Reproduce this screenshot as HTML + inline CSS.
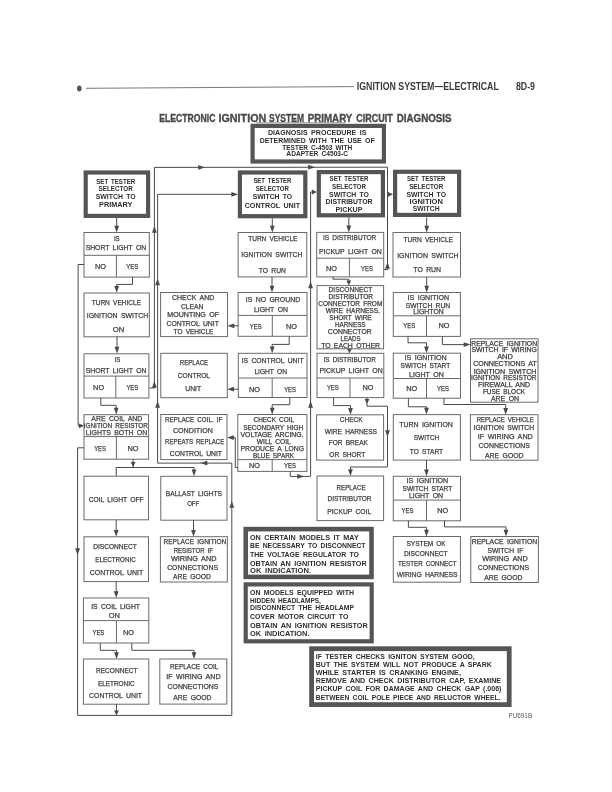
<!DOCTYPE html>
<html><head><meta charset="utf-8"><title>Electronic Ignition System Primary Circuit Diagnosis</title>
<style>
html,body{margin:0;padding:0;background:#fff;}
body{width:612px;height:792px;overflow:hidden;}
svg{display:block;filter:blur(0.3px);font-family:"Liberation Sans",sans-serif;}
</style></head>
<body>
<svg width="612" height="792" viewBox="0 0 612 792">
<rect x="0" y="0" width="612" height="792" fill="#fff"/>
<ellipse cx="79.3" cy="88.6" rx="2.3" ry="3.0" fill="#555"/>
<line x1="86" y1="88.3" x2="354" y2="86.6" stroke="#6a6a6a" stroke-width="0.9"/>
<text x="356.8" y="90.24" font-size="10.0" font-weight="bold" text-anchor="start" fill="#3a3a3a" textLength="142" lengthAdjust="spacingAndGlyphs">IGNITION SYSTEM—ELECTRICAL</text>
<text x="516.0" y="90.24" font-size="10.0" font-weight="bold" text-anchor="start" fill="#3a3a3a" textLength="19" lengthAdjust="spacingAndGlyphs">8D-9</text>
<text x="159.2" y="121.65" font-size="10.6" font-weight="bold" text-anchor="start" fill="#4a4a4a" textLength="56.2" lengthAdjust="spacingAndGlyphs" stroke="#4a4a4a" stroke-width="0.35">ELECTRONIC</text>
<text x="218.5" y="121.65" font-size="10.6" font-weight="bold" text-anchor="start" fill="#4a4a4a" textLength="47.8" lengthAdjust="spacingAndGlyphs" stroke="#4a4a4a" stroke-width="0.35">IGNITION</text>
<text x="269.0" y="121.65" font-size="10.6" font-weight="bold" text-anchor="start" fill="#4a4a4a" textLength="35.0" lengthAdjust="spacingAndGlyphs" stroke="#4a4a4a" stroke-width="0.35">SYSTEM</text>
<text x="307.8" y="121.65" font-size="10.6" font-weight="bold" text-anchor="start" fill="#4a4a4a" textLength="44.5" lengthAdjust="spacingAndGlyphs" stroke="#4a4a4a" stroke-width="0.35">PRIMARY</text>
<text x="356.2" y="121.65" font-size="10.6" font-weight="bold" text-anchor="start" fill="#4a4a4a" textLength="36.6" lengthAdjust="spacingAndGlyphs" stroke="#4a4a4a" stroke-width="0.35">CIRCUIT</text>
<text x="396.7" y="121.65" font-size="10.6" font-weight="bold" text-anchor="start" fill="#4a4a4a" textLength="54.9" lengthAdjust="spacingAndGlyphs" stroke="#4a4a4a" stroke-width="0.35">DIAGNOSIS</text>
<line x1="256.0" y1="122.8" x2="345.0" y2="122.8" stroke="#777" stroke-width="0.8"/>
<rect x="252.6" y="125.9" width="131.3" height="35.6" fill="#fff" stroke="#555" stroke-width="4.2"/>
<text x="317.2" y="135.17" font-size="6.9" font-weight="bold" text-anchor="middle" fill="#2e2e2e" textLength="98.4" lengthAdjust="spacingAndGlyphs" word-spacing="1.38">DIAGNOSIS PROCEDURE IS</text>
<text x="317.2" y="142.67" font-size="6.9" font-weight="bold" text-anchor="middle" fill="#2e2e2e" textLength="115.0" lengthAdjust="spacingAndGlyphs" word-spacing="1.38">DETERMINED WITH THE USE OF</text>
<text x="317.2" y="149.57" font-size="6.9" font-weight="bold" text-anchor="middle" fill="#2e2e2e" textLength="69.8" lengthAdjust="spacingAndGlyphs" word-spacing="1.38">TESTER C-4503 WITH</text>
<text x="317.2" y="156.37" font-size="6.9" font-weight="bold" text-anchor="middle" fill="#2e2e2e" textLength="61.7" lengthAdjust="spacingAndGlyphs" word-spacing="1.38">ADAPTER C4503-C</text>
<rect x="85.7" y="172.5" width="62.4" height="43.4" fill="#fff" stroke="#555" stroke-width="4.2"/>
<text x="115.7" y="183.50" font-size="6.4" font-weight="bold" text-anchor="middle" fill="#2e2e2e" textLength="38.9" lengthAdjust="spacingAndGlyphs" word-spacing="1.28">SET TESTER</text>
<text x="115.7" y="191.40" font-size="6.4" font-weight="bold" text-anchor="middle" fill="#2e2e2e" textLength="34.3" lengthAdjust="spacingAndGlyphs" word-spacing="1.28">SELECTOR</text>
<text x="115.7" y="199.40" font-size="6.4" font-weight="bold" text-anchor="middle" fill="#2e2e2e" textLength="40.0" lengthAdjust="spacingAndGlyphs" word-spacing="1.28">SWITCH TO</text>
<text x="115.7" y="207.20" font-size="6.4" font-weight="bold" text-anchor="middle" fill="#2e2e2e" textLength="33.3" lengthAdjust="spacingAndGlyphs" word-spacing="1.28">PRIMARY</text>
<rect x="239.9" y="172.5" width="65.4" height="43.7" fill="#fff" stroke="#555" stroke-width="4.2"/>
<text x="272.4" y="183.30" font-size="6.4" font-weight="bold" text-anchor="middle" fill="#2e2e2e" textLength="38.0" lengthAdjust="spacingAndGlyphs" word-spacing="1.28">SET TESTER</text>
<text x="272.4" y="191.10" font-size="6.4" font-weight="bold" text-anchor="middle" fill="#2e2e2e" textLength="33.3" lengthAdjust="spacingAndGlyphs" word-spacing="1.28">SELECTOR</text>
<text x="272.4" y="199.20" font-size="6.4" font-weight="bold" text-anchor="middle" fill="#2e2e2e" textLength="39.5" lengthAdjust="spacingAndGlyphs" word-spacing="1.28">SWITCH TO</text>
<text x="272.4" y="207.50" font-size="6.4" font-weight="bold" text-anchor="middle" fill="#2e2e2e" textLength="55.5" lengthAdjust="spacingAndGlyphs" word-spacing="1.28">CONTROL UNIT</text>
<rect x="318.8" y="172.1" width="64.1" height="43.2" fill="#fff" stroke="#555" stroke-width="4.2"/>
<text x="349.0" y="181.30" font-size="6.4" font-weight="bold" text-anchor="middle" fill="#2e2e2e" textLength="38.8" lengthAdjust="spacingAndGlyphs" word-spacing="1.28">SET TESTER</text>
<text x="349.0" y="188.90" font-size="6.4" font-weight="bold" text-anchor="middle" fill="#2e2e2e" textLength="34.0" lengthAdjust="spacingAndGlyphs" word-spacing="1.28">SELECTOR</text>
<text x="349.0" y="196.70" font-size="6.4" font-weight="bold" text-anchor="middle" fill="#2e2e2e" textLength="39.9" lengthAdjust="spacingAndGlyphs" word-spacing="1.28">SWITCH TO</text>
<text x="349.0" y="204.20" font-size="6.4" font-weight="bold" text-anchor="middle" fill="#2e2e2e" textLength="47.0" lengthAdjust="spacingAndGlyphs" word-spacing="1.28">DISTRIBUTOR</text>
<text x="349.0" y="211.80" font-size="6.4" font-weight="bold" text-anchor="middle" fill="#2e2e2e" textLength="26.8" lengthAdjust="spacingAndGlyphs" word-spacing="1.28">PICKUP</text>
<rect x="395.1" y="171.8" width="64.0" height="43.1" fill="#fff" stroke="#555" stroke-width="4.2"/>
<text x="426.2" y="181.30" font-size="6.4" font-weight="bold" text-anchor="middle" fill="#2e2e2e" textLength="38.5" lengthAdjust="spacingAndGlyphs" word-spacing="1.28">SET TESTER</text>
<text x="426.2" y="189.10" font-size="6.4" font-weight="bold" text-anchor="middle" fill="#2e2e2e" textLength="34.0" lengthAdjust="spacingAndGlyphs" word-spacing="1.28">SELECTOR</text>
<text x="426.2" y="196.70" font-size="6.4" font-weight="bold" text-anchor="middle" fill="#2e2e2e" textLength="39.6" lengthAdjust="spacingAndGlyphs" word-spacing="1.28">SWITCH TO</text>
<text x="426.2" y="203.50" font-size="6.4" font-weight="bold" text-anchor="middle" fill="#2e2e2e" textLength="33.3" lengthAdjust="spacingAndGlyphs" word-spacing="1.28">IGNITION</text>
<text x="426.2" y="211.10" font-size="6.4" font-weight="bold" text-anchor="middle" fill="#2e2e2e" textLength="26.8" lengthAdjust="spacingAndGlyphs" word-spacing="1.28">SWITCH</text>
<rect x="84.0" y="232.5" width="65.3" height="44.6" fill="none" stroke="#6a6a6a" stroke-width="1.0"/>
<text x="116.8" y="241.10" font-size="7.28" text-anchor="middle" fill="#3e3e3e" textLength="5.8" lengthAdjust="spacingAndGlyphs" word-spacing="1.54" stroke="#3e3e3e" stroke-width="0.25">IS</text>
<text x="115.9" y="250.30" font-size="7.28" text-anchor="middle" fill="#3e3e3e" textLength="60.5" lengthAdjust="spacingAndGlyphs" word-spacing="1.54" stroke="#3e3e3e" stroke-width="0.25">SHORT LIGHT ON</text>
<line x1="84.0" y1="255.3" x2="149.3" y2="255.3" stroke="#6a6a6a" stroke-width="1.0"/>
<line x1="116.4" y1="255.3" x2="116.4" y2="277.1" stroke="#6a6a6a" stroke-width="1.0"/>
<text x="100.5" y="269.40" font-size="7.28" text-anchor="middle" fill="#3e3e3e" textLength="11.0" lengthAdjust="spacingAndGlyphs" stroke="#3e3e3e" stroke-width="0.25">NO</text>
<text x="132.2" y="269.40" font-size="7.28" text-anchor="middle" fill="#3e3e3e" textLength="11.8" lengthAdjust="spacingAndGlyphs" stroke="#3e3e3e" stroke-width="0.25">YES</text>
<rect x="84.0" y="293.0" width="65.3" height="43.8" fill="none" stroke="#6a6a6a" stroke-width="1.0"/>
<text x="116.4" y="304.50" font-size="7.28" text-anchor="middle" fill="#3e3e3e" textLength="49.5" lengthAdjust="spacingAndGlyphs" word-spacing="1.54" stroke="#3e3e3e" stroke-width="0.25">TURN VEHICLE</text>
<text x="117.5" y="318.10" font-size="7.28" text-anchor="middle" fill="#3e3e3e" textLength="61.4" lengthAdjust="spacingAndGlyphs" word-spacing="1.54" stroke="#3e3e3e" stroke-width="0.25">IGNITION SWITCH</text>
<text x="118.5" y="332.40" font-size="7.28" text-anchor="middle" fill="#3e3e3e" textLength="11.5" lengthAdjust="spacingAndGlyphs" word-spacing="1.54" stroke="#3e3e3e" stroke-width="0.25">ON</text>
<rect x="84.0" y="353.8" width="64.9" height="44.2" fill="none" stroke="#6a6a6a" stroke-width="1.0"/>
<text x="117.5" y="362.10" font-size="7.28" text-anchor="middle" fill="#3e3e3e" textLength="5.8" lengthAdjust="spacingAndGlyphs" word-spacing="1.54" stroke="#3e3e3e" stroke-width="0.25">IS</text>
<text x="116.1" y="373.30" font-size="7.28" text-anchor="middle" fill="#3e3e3e" textLength="60.8" lengthAdjust="spacingAndGlyphs" word-spacing="1.54" stroke="#3e3e3e" stroke-width="0.25">SHORT LIGHT ON</text>
<line x1="84.0" y1="376.1" x2="148.9" y2="376.1" stroke="#6a6a6a" stroke-width="1.0"/>
<line x1="115.8" y1="376.1" x2="115.8" y2="398.0" stroke="#6a6a6a" stroke-width="1.0"/>
<text x="98.6" y="390.40" font-size="7.28" text-anchor="middle" fill="#3e3e3e" textLength="11.0" lengthAdjust="spacingAndGlyphs" stroke="#3e3e3e" stroke-width="0.25">NO</text>
<text x="132.3" y="390.40" font-size="7.28" text-anchor="middle" fill="#3e3e3e" textLength="11.8" lengthAdjust="spacingAndGlyphs" stroke="#3e3e3e" stroke-width="0.25">YES</text>
<rect x="84.0" y="414.7" width="64.6" height="44.5" fill="none" stroke="#6a6a6a" stroke-width="1.0"/>
<text x="116.8" y="421.33" font-size="7.07" text-anchor="middle" fill="#3e3e3e" textLength="50.9" lengthAdjust="spacingAndGlyphs" word-spacing="1.50" stroke="#3e3e3e" stroke-width="0.25">ARE COIL AND</text>
<text x="115.8" y="428.03" font-size="7.07" text-anchor="middle" fill="#3e3e3e" textLength="64.1" lengthAdjust="spacingAndGlyphs" word-spacing="1.50" stroke="#3e3e3e" stroke-width="0.25">IGNITION RESISTOR</text>
<text x="116.5" y="434.93" font-size="7.07" text-anchor="middle" fill="#3e3e3e" textLength="61.5" lengthAdjust="spacingAndGlyphs" word-spacing="1.50" stroke="#3e3e3e" stroke-width="0.25">LIGHTS BOTH ON</text>
<line x1="84.0" y1="436.6" x2="148.6" y2="436.6" stroke="#6a6a6a" stroke-width="1.0"/>
<line x1="116.4" y1="436.6" x2="116.4" y2="459.2" stroke="#6a6a6a" stroke-width="1.0"/>
<text x="100.1" y="450.73" font-size="7.07" text-anchor="middle" fill="#3e3e3e" textLength="11.8" lengthAdjust="spacingAndGlyphs" stroke="#3e3e3e" stroke-width="0.25">YES</text>
<text x="132.9" y="450.73" font-size="7.07" text-anchor="middle" fill="#3e3e3e" textLength="11.0" lengthAdjust="spacingAndGlyphs" stroke="#3e3e3e" stroke-width="0.25">NO</text>
<rect x="84.0" y="476.2" width="64.5" height="43.6" fill="none" stroke="#6a6a6a" stroke-width="1.0"/>
<text x="116.2" y="502.00" font-size="7.28" text-anchor="middle" fill="#3e3e3e" textLength="55.0" lengthAdjust="spacingAndGlyphs" word-spacing="1.54" stroke="#3e3e3e" stroke-width="0.25">COIL LIGHT OFF</text>
<rect x="84.0" y="536.8" width="64.5" height="44.8" fill="none" stroke="#6a6a6a" stroke-width="1.0"/>
<text x="115.0" y="548.80" font-size="7.28" text-anchor="middle" fill="#3e3e3e" textLength="43.7" lengthAdjust="spacingAndGlyphs" word-spacing="1.54" stroke="#3e3e3e" stroke-width="0.25">DISCONNECT</text>
<text x="115.5" y="561.90" font-size="7.28" text-anchor="middle" fill="#3e3e3e" textLength="40.4" lengthAdjust="spacingAndGlyphs" word-spacing="1.54" stroke="#3e3e3e" stroke-width="0.25">ELECTRONIC</text>
<text x="116.5" y="575.30" font-size="7.28" text-anchor="middle" fill="#3e3e3e" textLength="53.5" lengthAdjust="spacingAndGlyphs" word-spacing="1.54" stroke="#3e3e3e" stroke-width="0.25">CONTROL UNIT</text>
<rect x="83.4" y="598.0" width="65.4" height="45.0" fill="none" stroke="#6a6a6a" stroke-width="1.0"/>
<text x="115.6" y="608.60" font-size="7.28" text-anchor="middle" fill="#3e3e3e" textLength="48.8" lengthAdjust="spacingAndGlyphs" word-spacing="1.54" stroke="#3e3e3e" stroke-width="0.25">IS COIL LIGHT</text>
<text x="114.4" y="617.70" font-size="7.28" text-anchor="middle" fill="#3e3e3e" textLength="11.2" lengthAdjust="spacingAndGlyphs" word-spacing="1.54" stroke="#3e3e3e" stroke-width="0.25">ON</text>
<line x1="83.4" y1="620.6" x2="148.8" y2="620.6" stroke="#6a6a6a" stroke-width="1.0"/>
<line x1="116.5" y1="620.6" x2="116.5" y2="643.0" stroke="#6a6a6a" stroke-width="1.0"/>
<text x="98.4" y="634.50" font-size="7.28" text-anchor="middle" fill="#3e3e3e" textLength="11.8" lengthAdjust="spacingAndGlyphs" stroke="#3e3e3e" stroke-width="0.25">YES</text>
<text x="128.5" y="634.50" font-size="7.28" text-anchor="middle" fill="#3e3e3e" textLength="11.0" lengthAdjust="spacingAndGlyphs" stroke="#3e3e3e" stroke-width="0.25">NO</text>
<rect x="83.4" y="659.0" width="65.4" height="45.2" fill="none" stroke="#6a6a6a" stroke-width="1.0"/>
<text x="116.8" y="672.80" font-size="7.28" text-anchor="middle" fill="#3e3e3e" textLength="41.7" lengthAdjust="spacingAndGlyphs" word-spacing="1.54" stroke="#3e3e3e" stroke-width="0.25">RECONNECT</text>
<text x="116.3" y="685.50" font-size="7.28" text-anchor="middle" fill="#3e3e3e" textLength="36.8" lengthAdjust="spacingAndGlyphs" word-spacing="1.54" stroke="#3e3e3e" stroke-width="0.25">ELETRONIC</text>
<text x="115.6" y="698.30" font-size="7.28" text-anchor="middle" fill="#3e3e3e" textLength="53.0" lengthAdjust="spacingAndGlyphs" word-spacing="1.54" stroke="#3e3e3e" stroke-width="0.25">CONTROL UNIT</text>
<rect x="160.6" y="292.5" width="66.9" height="44.1" fill="none" stroke="#6a6a6a" stroke-width="1.0"/>
<text x="193.1" y="300.03" font-size="7.07" text-anchor="middle" fill="#3e3e3e" textLength="42.4" lengthAdjust="spacingAndGlyphs" word-spacing="1.50" stroke="#3e3e3e" stroke-width="0.25">CHECK AND</text>
<text x="192.1" y="308.83" font-size="7.07" text-anchor="middle" fill="#3e3e3e" textLength="22.4" lengthAdjust="spacingAndGlyphs" word-spacing="1.50" stroke="#3e3e3e" stroke-width="0.25">CLEAN</text>
<text x="193.2" y="317.33" font-size="7.07" text-anchor="middle" fill="#3e3e3e" textLength="51.9" lengthAdjust="spacingAndGlyphs" word-spacing="1.50" stroke="#3e3e3e" stroke-width="0.25">MOUNTING OF</text>
<text x="192.7" y="326.03" font-size="7.07" text-anchor="middle" fill="#3e3e3e" textLength="52.3" lengthAdjust="spacingAndGlyphs" word-spacing="1.50" stroke="#3e3e3e" stroke-width="0.25">CONTROL UNIT</text>
<text x="193.5" y="334.23" font-size="7.07" text-anchor="middle" fill="#3e3e3e" textLength="39.8" lengthAdjust="spacingAndGlyphs" word-spacing="1.50" stroke="#3e3e3e" stroke-width="0.25">TO VEHICLE</text>
<rect x="160.8" y="353.3" width="66.5" height="44.4" fill="none" stroke="#6a6a6a" stroke-width="1.0"/>
<text x="194.0" y="364.60" font-size="7.28" text-anchor="middle" fill="#3e3e3e" textLength="28.3" lengthAdjust="spacingAndGlyphs" word-spacing="1.54" stroke="#3e3e3e" stroke-width="0.25">REPLACE</text>
<text x="193.9" y="378.10" font-size="7.28" text-anchor="middle" fill="#3e3e3e" textLength="32.2" lengthAdjust="spacingAndGlyphs" word-spacing="1.54" stroke="#3e3e3e" stroke-width="0.25">CONTROL</text>
<text x="193.2" y="390.80" font-size="7.28" text-anchor="middle" fill="#3e3e3e" textLength="15.9" lengthAdjust="spacingAndGlyphs" word-spacing="1.54" stroke="#3e3e3e" stroke-width="0.25">UNIT</text>
<rect x="160.8" y="414.5" width="66.2" height="45.1" fill="none" stroke="#6a6a6a" stroke-width="1.0"/>
<text x="193.7" y="421.87" font-size="7.18" text-anchor="middle" fill="#3e3e3e" textLength="57.3" lengthAdjust="spacingAndGlyphs" word-spacing="1.52" stroke="#3e3e3e" stroke-width="0.25">REPLACE COIL. IF</text>
<text x="192.9" y="432.67" font-size="7.18" text-anchor="middle" fill="#3e3e3e" textLength="40.0" lengthAdjust="spacingAndGlyphs" word-spacing="1.52" stroke="#3e3e3e" stroke-width="0.25">CONDITION</text>
<text x="194.7" y="444.47" font-size="7.18" text-anchor="middle" fill="#3e3e3e" textLength="59.2" lengthAdjust="spacingAndGlyphs" word-spacing="1.52" stroke="#3e3e3e" stroke-width="0.25">REPEATS REPLACE</text>
<text x="195.9" y="455.77" font-size="7.18" text-anchor="middle" fill="#3e3e3e" textLength="52.2" lengthAdjust="spacingAndGlyphs" word-spacing="1.52" stroke="#3e3e3e" stroke-width="0.25">CONTROL UNIT</text>
<rect x="160.8" y="476.3" width="66.2" height="43.9" fill="none" stroke="#6a6a6a" stroke-width="1.0"/>
<text x="193.9" y="496.00" font-size="7.28" text-anchor="middle" fill="#3e3e3e" textLength="56.1" lengthAdjust="spacingAndGlyphs" word-spacing="1.54" stroke="#3e3e3e" stroke-width="0.25">BALLAST LIGHTS</text>
<text x="193.2" y="505.80" font-size="7.28" text-anchor="middle" fill="#3e3e3e" textLength="12.1" lengthAdjust="spacingAndGlyphs" word-spacing="1.54" stroke="#3e3e3e" stroke-width="0.25">OFF</text>
<rect x="160.4" y="536.7" width="66.9" height="45.3" fill="none" stroke="#6a6a6a" stroke-width="1.0"/>
<text x="194.9" y="544.03" font-size="7.07" text-anchor="middle" fill="#3e3e3e" textLength="62.8" lengthAdjust="spacingAndGlyphs" word-spacing="1.50" stroke="#3e3e3e" stroke-width="0.25">REPLACE IGNITION</text>
<text x="193.3" y="552.83" font-size="7.07" text-anchor="middle" fill="#3e3e3e" textLength="39.2" lengthAdjust="spacingAndGlyphs" word-spacing="1.50" stroke="#3e3e3e" stroke-width="0.25">RESISTOR IF</text>
<text x="193.7" y="561.23" font-size="7.07" text-anchor="middle" fill="#3e3e3e" textLength="45.5" lengthAdjust="spacingAndGlyphs" word-spacing="1.50" stroke="#3e3e3e" stroke-width="0.25">WIRING AND</text>
<text x="192.6" y="570.43" font-size="7.07" text-anchor="middle" fill="#3e3e3e" textLength="50.9" lengthAdjust="spacingAndGlyphs" word-spacing="1.50" stroke="#3e3e3e" stroke-width="0.25">CONNECTIONS</text>
<text x="192.0" y="578.93" font-size="7.07" text-anchor="middle" fill="#3e3e3e" textLength="38.1" lengthAdjust="spacingAndGlyphs" word-spacing="1.50" stroke="#3e3e3e" stroke-width="0.25">ARE GOOD</text>
<rect x="159.8" y="659.0" width="67.0" height="45.1" fill="none" stroke="#6a6a6a" stroke-width="1.0"/>
<text x="194.2" y="669.43" font-size="7.07" text-anchor="middle" fill="#3e3e3e" textLength="48.5" lengthAdjust="spacingAndGlyphs" word-spacing="1.50" stroke="#3e3e3e" stroke-width="0.25">REPLACE COIL</text>
<text x="193.4" y="679.23" font-size="7.07" text-anchor="middle" fill="#3e3e3e" textLength="54.4" lengthAdjust="spacingAndGlyphs" word-spacing="1.50" stroke="#3e3e3e" stroke-width="0.25">IF WIRING AND</text>
<text x="193.0" y="689.43" font-size="7.07" text-anchor="middle" fill="#3e3e3e" textLength="50.8" lengthAdjust="spacingAndGlyphs" word-spacing="1.50" stroke="#3e3e3e" stroke-width="0.25">CONNECTIONS</text>
<text x="192.4" y="700.43" font-size="7.07" text-anchor="middle" fill="#3e3e3e" textLength="38.3" lengthAdjust="spacingAndGlyphs" word-spacing="1.50" stroke="#3e3e3e" stroke-width="0.25">ARE GOOD</text>
<rect x="238.1" y="232.5" width="68.7" height="44.4" fill="none" stroke="#6a6a6a" stroke-width="1.0"/>
<text x="272.8" y="240.90" font-size="7.28" text-anchor="middle" fill="#3e3e3e" textLength="49.2" lengthAdjust="spacingAndGlyphs" word-spacing="1.54" stroke="#3e3e3e" stroke-width="0.25">TURN VEHICLE</text>
<text x="271.9" y="257.20" font-size="7.28" text-anchor="middle" fill="#3e3e3e" textLength="61.1" lengthAdjust="spacingAndGlyphs" word-spacing="1.54" stroke="#3e3e3e" stroke-width="0.25">IGNITION SWITCH</text>
<text x="272.4" y="272.80" font-size="7.28" text-anchor="middle" fill="#3e3e3e" textLength="27.1" lengthAdjust="spacingAndGlyphs" word-spacing="1.54" stroke="#3e3e3e" stroke-width="0.25">TO RUN</text>
<rect x="238.1" y="292.5" width="68.9" height="43.8" fill="none" stroke="#6a6a6a" stroke-width="1.0"/>
<text x="273.0" y="302.10" font-size="7.28" text-anchor="middle" fill="#3e3e3e" textLength="54.5" lengthAdjust="spacingAndGlyphs" word-spacing="1.54" stroke="#3e3e3e" stroke-width="0.25">IS NO GROUND</text>
<text x="271.0" y="312.00" font-size="7.28" text-anchor="middle" fill="#3e3e3e" textLength="34.1" lengthAdjust="spacingAndGlyphs" word-spacing="1.54" stroke="#3e3e3e" stroke-width="0.25">LIGHT ON</text>
<line x1="238.1" y1="315.4" x2="307.0" y2="315.4" stroke="#6a6a6a" stroke-width="1.0"/>
<line x1="272.3" y1="315.4" x2="272.3" y2="336.3" stroke="#6a6a6a" stroke-width="1.0"/>
<text x="255.7" y="329.00" font-size="7.28" text-anchor="middle" fill="#3e3e3e" textLength="11.8" lengthAdjust="spacingAndGlyphs" stroke="#3e3e3e" stroke-width="0.25">YES</text>
<text x="291.5" y="329.00" font-size="7.28" text-anchor="middle" fill="#3e3e3e" textLength="11.0" lengthAdjust="spacingAndGlyphs" stroke="#3e3e3e" stroke-width="0.25">NO</text>
<rect x="238.3" y="353.3" width="68.7" height="44.2" fill="none" stroke="#6a6a6a" stroke-width="1.0"/>
<text x="272.6" y="362.80" font-size="7.28" text-anchor="middle" fill="#3e3e3e" textLength="61.9" lengthAdjust="spacingAndGlyphs" word-spacing="1.54" stroke="#3e3e3e" stroke-width="0.25">IS CONTROL UNIT</text>
<text x="270.7" y="373.60" font-size="7.28" text-anchor="middle" fill="#3e3e3e" textLength="32.5" lengthAdjust="spacingAndGlyphs" word-spacing="1.54" stroke="#3e3e3e" stroke-width="0.25">LIGHT ON</text>
<line x1="238.3" y1="378.0" x2="307.0" y2="378.0" stroke="#6a6a6a" stroke-width="1.0"/>
<line x1="272.2" y1="378.0" x2="272.2" y2="397.5" stroke="#6a6a6a" stroke-width="1.0"/>
<text x="254.4" y="391.70" font-size="7.28" text-anchor="middle" fill="#3e3e3e" textLength="11.0" lengthAdjust="spacingAndGlyphs" stroke="#3e3e3e" stroke-width="0.25">NO</text>
<text x="290.1" y="391.70" font-size="7.28" text-anchor="middle" fill="#3e3e3e" textLength="11.8" lengthAdjust="spacingAndGlyphs" stroke="#3e3e3e" stroke-width="0.25">YES</text>
<rect x="237.8" y="414.5" width="69.1" height="56.9" fill="none" stroke="#6a6a6a" stroke-width="1.0"/>
<text x="273.8" y="421.76" font-size="6.86" text-anchor="middle" fill="#3e3e3e" textLength="40.6" lengthAdjust="spacingAndGlyphs" word-spacing="1.45" stroke="#3e3e3e" stroke-width="0.25">CHECK COIL</text>
<text x="273.2" y="429.66" font-size="6.86" text-anchor="middle" fill="#3e3e3e" textLength="60.1" lengthAdjust="spacingAndGlyphs" word-spacing="1.45" stroke="#3e3e3e" stroke-width="0.25">SECONDARY HIGH</text>
<text x="272.0" y="437.06" font-size="6.86" text-anchor="middle" fill="#3e3e3e" textLength="63.0" lengthAdjust="spacingAndGlyphs" word-spacing="1.45" stroke="#3e3e3e" stroke-width="0.25">VOLTAGE ARCING.</text>
<text x="273.8" y="444.36" font-size="6.86" text-anchor="middle" fill="#3e3e3e" textLength="34.0" lengthAdjust="spacingAndGlyphs" word-spacing="1.45" stroke="#3e3e3e" stroke-width="0.25">WILL COIL</text>
<text x="272.2" y="451.16" font-size="6.86" text-anchor="middle" fill="#3e3e3e" textLength="63.4" lengthAdjust="spacingAndGlyphs" word-spacing="1.45" stroke="#3e3e3e" stroke-width="0.25">PRODUCE A LONG</text>
<text x="273.5" y="458.06" font-size="6.86" text-anchor="middle" fill="#3e3e3e" textLength="41.2" lengthAdjust="spacingAndGlyphs" word-spacing="1.45" stroke="#3e3e3e" stroke-width="0.25">BLUE SPARK</text>
<line x1="237.8" y1="459.6" x2="306.9" y2="459.6" stroke="#6a6a6a" stroke-width="1.0"/>
<line x1="272.2" y1="459.6" x2="272.2" y2="471.4" stroke="#6a6a6a" stroke-width="1.0"/>
<text x="254.5" y="467.66" font-size="6.86" text-anchor="middle" fill="#3e3e3e" textLength="11.0" lengthAdjust="spacingAndGlyphs" stroke="#3e3e3e" stroke-width="0.25">NO</text>
<text x="290.0" y="467.66" font-size="6.86" text-anchor="middle" fill="#3e3e3e" textLength="11.8" lengthAdjust="spacingAndGlyphs" stroke="#3e3e3e" stroke-width="0.25">YES</text>
<rect x="316.7" y="232.4" width="67.0" height="44.5" fill="none" stroke="#6a6a6a" stroke-width="1.0"/>
<text x="349.6" y="240.30" font-size="7.28" text-anchor="middle" fill="#3e3e3e" textLength="53.4" lengthAdjust="spacingAndGlyphs" word-spacing="1.54" stroke="#3e3e3e" stroke-width="0.25">IS DISTRIBUTOR</text>
<text x="350.4" y="253.90" font-size="7.28" text-anchor="middle" fill="#3e3e3e" textLength="62.8" lengthAdjust="spacingAndGlyphs" word-spacing="1.54" stroke="#3e3e3e" stroke-width="0.25">PICKUP LIGHT ON</text>
<line x1="316.7" y1="258.2" x2="383.7" y2="258.2" stroke="#6a6a6a" stroke-width="1.0"/>
<line x1="349.4" y1="258.2" x2="349.4" y2="276.9" stroke="#6a6a6a" stroke-width="1.0"/>
<text x="331.4" y="270.50" font-size="7.28" text-anchor="middle" fill="#3e3e3e" textLength="11.0" lengthAdjust="spacingAndGlyphs" stroke="#3e3e3e" stroke-width="0.25">NO</text>
<text x="367.0" y="270.50" font-size="7.28" text-anchor="middle" fill="#3e3e3e" textLength="11.8" lengthAdjust="spacingAndGlyphs" stroke="#3e3e3e" stroke-width="0.25">YES</text>
<rect x="317.0" y="285.6" width="66.6" height="63.2" fill="none" stroke="#6a6a6a" stroke-width="1.0"/>
<text x="350.4" y="291.99" font-size="6.66" text-anchor="middle" fill="#3e3e3e" textLength="43.6" lengthAdjust="spacingAndGlyphs" word-spacing="1.41" stroke="#3e3e3e" stroke-width="0.25">DISCONNECT</text>
<text x="350.8" y="298.99" font-size="6.66" text-anchor="middle" fill="#3e3e3e" textLength="44.4" lengthAdjust="spacingAndGlyphs" word-spacing="1.41" stroke="#3e3e3e" stroke-width="0.25">DISTRIBUTOR</text>
<text x="350.3" y="306.19" font-size="6.66" text-anchor="middle" fill="#3e3e3e" textLength="64.0" lengthAdjust="spacingAndGlyphs" word-spacing="1.41" stroke="#3e3e3e" stroke-width="0.25">CONNECTOR FROM</text>
<text x="352.9" y="313.09" font-size="6.66" text-anchor="middle" fill="#3e3e3e" textLength="54.2" lengthAdjust="spacingAndGlyphs" word-spacing="1.41" stroke="#3e3e3e" stroke-width="0.25">WIRE HARNESS.</text>
<text x="350.5" y="320.09" font-size="6.66" text-anchor="middle" fill="#3e3e3e" textLength="42.3" lengthAdjust="spacingAndGlyphs" word-spacing="1.41" stroke="#3e3e3e" stroke-width="0.25">SHORT WIRE</text>
<text x="350.3" y="326.99" font-size="6.66" text-anchor="middle" fill="#3e3e3e" textLength="30.6" lengthAdjust="spacingAndGlyphs" word-spacing="1.41" stroke="#3e3e3e" stroke-width="0.25">HARNESS</text>
<text x="349.7" y="333.99" font-size="6.66" text-anchor="middle" fill="#3e3e3e" textLength="43.9" lengthAdjust="spacingAndGlyphs" word-spacing="1.41" stroke="#3e3e3e" stroke-width="0.25">CONNECTOR</text>
<text x="350.6" y="340.89" font-size="6.66" text-anchor="middle" fill="#3e3e3e" textLength="20.0" lengthAdjust="spacingAndGlyphs" word-spacing="1.41" stroke="#3e3e3e" stroke-width="0.25">LEADS</text>
<text x="350.6" y="347.89" font-size="6.66" text-anchor="middle" fill="#3e3e3e" textLength="58.9" lengthAdjust="spacingAndGlyphs" word-spacing="1.41" stroke="#3e3e3e" stroke-width="0.25">TO EACH OTHER</text>
<rect x="317.0" y="353.3" width="66.8" height="44.3" fill="none" stroke="#6a6a6a" stroke-width="1.0"/>
<text x="349.7" y="361.90" font-size="7.28" text-anchor="middle" fill="#3e3e3e" textLength="52.2" lengthAdjust="spacingAndGlyphs" word-spacing="1.54" stroke="#3e3e3e" stroke-width="0.25">IS DISTRIBUTOR</text>
<text x="351.1" y="373.10" font-size="7.28" text-anchor="middle" fill="#3e3e3e" textLength="63.4" lengthAdjust="spacingAndGlyphs" word-spacing="1.54" stroke="#3e3e3e" stroke-width="0.25">PICKUP LIGHT ON</text>
<line x1="317.0" y1="378.0" x2="383.8" y2="378.0" stroke="#6a6a6a" stroke-width="1.0"/>
<line x1="350.0" y1="378.0" x2="350.0" y2="397.6" stroke="#6a6a6a" stroke-width="1.0"/>
<text x="332.8" y="390.30" font-size="7.28" text-anchor="middle" fill="#3e3e3e" textLength="11.8" lengthAdjust="spacingAndGlyphs" stroke="#3e3e3e" stroke-width="0.25">YES</text>
<text x="367.9" y="390.30" font-size="7.28" text-anchor="middle" fill="#3e3e3e" textLength="11.0" lengthAdjust="spacingAndGlyphs" stroke="#3e3e3e" stroke-width="0.25">NO</text>
<rect x="316.6" y="414.8" width="67.0" height="45.3" fill="none" stroke="#6a6a6a" stroke-width="1.0"/>
<text x="351.2" y="421.80" font-size="7.28" text-anchor="middle" fill="#3e3e3e" textLength="22.9" lengthAdjust="spacingAndGlyphs" word-spacing="1.54" stroke="#3e3e3e" stroke-width="0.25">CHECK</text>
<text x="350.9" y="433.60" font-size="7.28" text-anchor="middle" fill="#3e3e3e" textLength="52.2" lengthAdjust="spacingAndGlyphs" word-spacing="1.54" stroke="#3e3e3e" stroke-width="0.25">WIRE HARNESS</text>
<text x="348.3" y="445.00" font-size="7.28" text-anchor="middle" fill="#3e3e3e" textLength="39.2" lengthAdjust="spacingAndGlyphs" word-spacing="1.54" stroke="#3e3e3e" stroke-width="0.25">FOR BREAK</text>
<text x="347.3" y="456.50" font-size="7.28" text-anchor="middle" fill="#3e3e3e" textLength="35.9" lengthAdjust="spacingAndGlyphs" word-spacing="1.54" stroke="#3e3e3e" stroke-width="0.25">OR SHORT</text>
<rect x="317.0" y="476.0" width="66.6" height="44.6" fill="none" stroke="#6a6a6a" stroke-width="1.0"/>
<text x="351.1" y="490.10" font-size="7.28" text-anchor="middle" fill="#3e3e3e" textLength="29.0" lengthAdjust="spacingAndGlyphs" word-spacing="1.54" stroke="#3e3e3e" stroke-width="0.25">REPLACE</text>
<text x="349.5" y="501.40" font-size="7.28" text-anchor="middle" fill="#3e3e3e" textLength="44.1" lengthAdjust="spacingAndGlyphs" word-spacing="1.54" stroke="#3e3e3e" stroke-width="0.25">DISTRIBUTOR</text>
<text x="349.2" y="513.90" font-size="7.28" text-anchor="middle" fill="#3e3e3e" textLength="43.9" lengthAdjust="spacingAndGlyphs" word-spacing="1.54" stroke="#3e3e3e" stroke-width="0.25">PICKUP COIL</text>
<rect x="393.0" y="232.5" width="67.5" height="44.5" fill="none" stroke="#6a6a6a" stroke-width="1.0"/>
<text x="428.3" y="241.90" font-size="7.28" text-anchor="middle" fill="#3e3e3e" textLength="49.4" lengthAdjust="spacingAndGlyphs" word-spacing="1.54" stroke="#3e3e3e" stroke-width="0.25">TURN VEHICLE</text>
<text x="427.9" y="257.80" font-size="7.28" text-anchor="middle" fill="#3e3e3e" textLength="61.4" lengthAdjust="spacingAndGlyphs" word-spacing="1.54" stroke="#3e3e3e" stroke-width="0.25">IGNITION SWITCH</text>
<text x="427.2" y="271.70" font-size="7.28" text-anchor="middle" fill="#3e3e3e" textLength="27.8" lengthAdjust="spacingAndGlyphs" word-spacing="1.54" stroke="#3e3e3e" stroke-width="0.25">TO RUN</text>
<rect x="393.3" y="292.5" width="67.1" height="43.9" fill="none" stroke="#6a6a6a" stroke-width="1.0"/>
<text x="428.3" y="299.63" font-size="7.07" text-anchor="middle" fill="#3e3e3e" textLength="41.5" lengthAdjust="spacingAndGlyphs" word-spacing="1.50" stroke="#3e3e3e" stroke-width="0.25">IS IGNITION</text>
<text x="428.0" y="307.63" font-size="7.07" text-anchor="middle" fill="#3e3e3e" textLength="44.3" lengthAdjust="spacingAndGlyphs" word-spacing="1.50" stroke="#3e3e3e" stroke-width="0.25">SWITCH RUN</text>
<text x="428.5" y="314.43" font-size="7.07" text-anchor="middle" fill="#3e3e3e" textLength="30.4" lengthAdjust="spacingAndGlyphs" word-spacing="1.50" stroke="#3e3e3e" stroke-width="0.25">LIGHTON</text>
<line x1="393.3" y1="315.8" x2="460.4" y2="315.8" stroke="#6a6a6a" stroke-width="1.0"/>
<line x1="426.5" y1="315.8" x2="426.5" y2="336.4" stroke="#6a6a6a" stroke-width="1.0"/>
<text x="409.2" y="328.23" font-size="7.07" text-anchor="middle" fill="#3e3e3e" textLength="11.8" lengthAdjust="spacingAndGlyphs" stroke="#3e3e3e" stroke-width="0.25">YES</text>
<text x="444.0" y="328.23" font-size="7.07" text-anchor="middle" fill="#3e3e3e" textLength="11.0" lengthAdjust="spacingAndGlyphs" stroke="#3e3e3e" stroke-width="0.25">NO</text>
<rect x="393.3" y="353.2" width="67.2" height="45.0" fill="none" stroke="#6a6a6a" stroke-width="1.0"/>
<text x="425.6" y="359.93" font-size="7.07" text-anchor="middle" fill="#3e3e3e" textLength="42.2" lengthAdjust="spacingAndGlyphs" word-spacing="1.50" stroke="#3e3e3e" stroke-width="0.25">IS IGNITION</text>
<text x="425.4" y="367.83" font-size="7.07" text-anchor="middle" fill="#3e3e3e" textLength="49.6" lengthAdjust="spacingAndGlyphs" word-spacing="1.50" stroke="#3e3e3e" stroke-width="0.25">SWITCH START</text>
<text x="426.4" y="376.63" font-size="7.07" text-anchor="middle" fill="#3e3e3e" textLength="34.7" lengthAdjust="spacingAndGlyphs" word-spacing="1.50" stroke="#3e3e3e" stroke-width="0.25">LIGHT ON</text>
<line x1="393.3" y1="378.5" x2="460.5" y2="378.5" stroke="#6a6a6a" stroke-width="1.0"/>
<line x1="426.5" y1="378.5" x2="426.5" y2="398.2" stroke="#6a6a6a" stroke-width="1.0"/>
<text x="411.8" y="391.43" font-size="7.07" text-anchor="middle" fill="#3e3e3e" textLength="11.0" lengthAdjust="spacingAndGlyphs" stroke="#3e3e3e" stroke-width="0.25">NO</text>
<text x="443.0" y="391.43" font-size="7.07" text-anchor="middle" fill="#3e3e3e" textLength="11.8" lengthAdjust="spacingAndGlyphs" stroke="#3e3e3e" stroke-width="0.25">YES</text>
<rect x="393.3" y="414.6" width="67.1" height="45.5" fill="none" stroke="#6a6a6a" stroke-width="1.0"/>
<text x="426.0" y="426.90" font-size="7.28" text-anchor="middle" fill="#3e3e3e" textLength="53.7" lengthAdjust="spacingAndGlyphs" word-spacing="1.54" stroke="#3e3e3e" stroke-width="0.25">TURN IGNITION</text>
<text x="426.5" y="440.00" font-size="7.28" text-anchor="middle" fill="#3e3e3e" textLength="25.5" lengthAdjust="spacingAndGlyphs" word-spacing="1.54" stroke="#3e3e3e" stroke-width="0.25">SWITCH</text>
<text x="426.5" y="453.80" font-size="7.28" text-anchor="middle" fill="#3e3e3e" textLength="33.3" lengthAdjust="spacingAndGlyphs" word-spacing="1.54" stroke="#3e3e3e" stroke-width="0.25">TO START</text>
<rect x="393.3" y="476.3" width="67.2" height="44.5" fill="none" stroke="#6a6a6a" stroke-width="1.0"/>
<text x="427.4" y="483.33" font-size="7.07" text-anchor="middle" fill="#3e3e3e" textLength="41.7" lengthAdjust="spacingAndGlyphs" word-spacing="1.50" stroke="#3e3e3e" stroke-width="0.25">IS IGNITION</text>
<text x="427.4" y="490.73" font-size="7.07" text-anchor="middle" fill="#3e3e3e" textLength="49.6" lengthAdjust="spacingAndGlyphs" word-spacing="1.50" stroke="#3e3e3e" stroke-width="0.25">SWITCH START</text>
<text x="426.0" y="498.43" font-size="7.07" text-anchor="middle" fill="#3e3e3e" textLength="34.1" lengthAdjust="spacingAndGlyphs" word-spacing="1.50" stroke="#3e3e3e" stroke-width="0.25">LIGHT ON</text>
<line x1="393.3" y1="500.1" x2="460.5" y2="500.1" stroke="#6a6a6a" stroke-width="1.0"/>
<line x1="426.5" y1="500.1" x2="426.5" y2="520.8" stroke="#6a6a6a" stroke-width="1.0"/>
<text x="407.5" y="513.43" font-size="7.07" text-anchor="middle" fill="#3e3e3e" textLength="11.8" lengthAdjust="spacingAndGlyphs" stroke="#3e3e3e" stroke-width="0.25">YES</text>
<text x="442.8" y="513.43" font-size="7.07" text-anchor="middle" fill="#3e3e3e" textLength="11.0" lengthAdjust="spacingAndGlyphs" stroke="#3e3e3e" stroke-width="0.25">NO</text>
<rect x="393.3" y="536.5" width="67.1" height="45.7" fill="none" stroke="#6a6a6a" stroke-width="1.0"/>
<text x="426.1" y="545.50" font-size="7.28" text-anchor="middle" fill="#3e3e3e" textLength="39.2" lengthAdjust="spacingAndGlyphs" word-spacing="1.54" stroke="#3e3e3e" stroke-width="0.25">SYSTEM OK</text>
<text x="425.8" y="555.60" font-size="7.28" text-anchor="middle" fill="#3e3e3e" textLength="43.7" lengthAdjust="spacingAndGlyphs" word-spacing="1.54" stroke="#3e3e3e" stroke-width="0.25">DISCONNECT</text>
<text x="427.3" y="566.00" font-size="7.28" text-anchor="middle" fill="#3e3e3e" textLength="58.5" lengthAdjust="spacingAndGlyphs" word-spacing="1.54" stroke="#3e3e3e" stroke-width="0.25">TESTER CONNECT</text>
<text x="427.1" y="576.80" font-size="7.28" text-anchor="middle" fill="#3e3e3e" textLength="60.8" lengthAdjust="spacingAndGlyphs" word-spacing="1.54" stroke="#3e3e3e" stroke-width="0.25">WIRING HARNESS</text>
<rect x="470.5" y="338.8" width="67.5" height="63.4" fill="none" stroke="#6a6a6a" stroke-width="1.0"/>
<text x="504.2" y="345.99" font-size="6.66" text-anchor="middle" fill="#3e3e3e" textLength="66.0" lengthAdjust="spacingAndGlyphs" word-spacing="1.41" stroke="#3e3e3e" stroke-width="0.25">REPLACE IGNITION</text>
<text x="504.2" y="352.49" font-size="6.66" text-anchor="middle" fill="#3e3e3e" textLength="65.5" lengthAdjust="spacingAndGlyphs" word-spacing="1.41" stroke="#3e3e3e" stroke-width="0.25">SWITCH IF WIRING</text>
<text x="505.0" y="359.39" font-size="6.66" text-anchor="middle" fill="#3e3e3e" textLength="15.7" lengthAdjust="spacingAndGlyphs" word-spacing="1.41" stroke="#3e3e3e" stroke-width="0.25">AND</text>
<text x="505.0" y="366.19" font-size="6.66" text-anchor="middle" fill="#3e3e3e" textLength="63.7" lengthAdjust="spacingAndGlyphs" word-spacing="1.41" stroke="#3e3e3e" stroke-width="0.25">CONNECTIONS AT</text>
<text x="505.0" y="373.89" font-size="6.66" text-anchor="middle" fill="#3e3e3e" textLength="62.7" lengthAdjust="spacingAndGlyphs" word-spacing="1.41" stroke="#3e3e3e" stroke-width="0.25">IGNITION SWITCH</text>
<text x="503.8" y="380.29" font-size="6.66" text-anchor="middle" fill="#3e3e3e" textLength="65.5" lengthAdjust="spacingAndGlyphs" word-spacing="1.41" stroke="#3e3e3e" stroke-width="0.25">IGNITION RESISTOR</text>
<text x="504.0" y="387.19" font-size="6.66" text-anchor="middle" fill="#3e3e3e" textLength="52.0" lengthAdjust="spacingAndGlyphs" word-spacing="1.41" stroke="#3e3e3e" stroke-width="0.25">FIREWALL AND</text>
<text x="504.0" y="394.09" font-size="6.66" text-anchor="middle" fill="#3e3e3e" textLength="42.2" lengthAdjust="spacingAndGlyphs" word-spacing="1.41" stroke="#3e3e3e" stroke-width="0.25">FUSE BLOCK</text>
<text x="505.0" y="400.89" font-size="6.66" text-anchor="middle" fill="#3e3e3e" textLength="28.2" lengthAdjust="spacingAndGlyphs" word-spacing="1.41" stroke="#3e3e3e" stroke-width="0.25">ARE ON</text>
<rect x="470.4" y="414.7" width="67.6" height="45.5" fill="none" stroke="#6a6a6a" stroke-width="1.0"/>
<text x="505.2" y="422.03" font-size="7.07" text-anchor="middle" fill="#3e3e3e" textLength="57.0" lengthAdjust="spacingAndGlyphs" word-spacing="1.50" stroke="#3e3e3e" stroke-width="0.25">REPLACE VEHICLE</text>
<text x="503.9" y="429.93" font-size="7.07" text-anchor="middle" fill="#3e3e3e" textLength="60.6" lengthAdjust="spacingAndGlyphs" word-spacing="1.50" stroke="#3e3e3e" stroke-width="0.25">IGNITION SWITCH</text>
<text x="505.3" y="438.73" font-size="7.07" text-anchor="middle" fill="#3e3e3e" textLength="55.0" lengthAdjust="spacingAndGlyphs" word-spacing="1.50" stroke="#3e3e3e" stroke-width="0.25">IF WIRING AND</text>
<text x="504.3" y="448.13" font-size="7.07" text-anchor="middle" fill="#3e3e3e" textLength="51.4" lengthAdjust="spacingAndGlyphs" word-spacing="1.50" stroke="#3e3e3e" stroke-width="0.25">CONNECTIONS</text>
<text x="504.3" y="457.93" font-size="7.07" text-anchor="middle" fill="#3e3e3e" textLength="38.6" lengthAdjust="spacingAndGlyphs" word-spacing="1.50" stroke="#3e3e3e" stroke-width="0.25">ARE GOOD</text>
<rect x="470.8" y="536.5" width="67.6" height="46.0" fill="none" stroke="#6a6a6a" stroke-width="1.0"/>
<text x="504.5" y="544.43" font-size="7.07" text-anchor="middle" fill="#3e3e3e" textLength="65.3" lengthAdjust="spacingAndGlyphs" word-spacing="1.50" stroke="#3e3e3e" stroke-width="0.25">REPLACE IGNITION</text>
<text x="505.4" y="552.63" font-size="7.07" text-anchor="middle" fill="#3e3e3e" textLength="35.8" lengthAdjust="spacingAndGlyphs" word-spacing="1.50" stroke="#3e3e3e" stroke-width="0.25">SWITCH IF</text>
<text x="505.0" y="561.03" font-size="7.07" text-anchor="middle" fill="#3e3e3e" textLength="45.6" lengthAdjust="spacingAndGlyphs" word-spacing="1.50" stroke="#3e3e3e" stroke-width="0.25">WIRING AND</text>
<text x="503.5" y="570.43" font-size="7.07" text-anchor="middle" fill="#3e3e3e" textLength="51.4" lengthAdjust="spacingAndGlyphs" word-spacing="1.50" stroke="#3e3e3e" stroke-width="0.25">CONNECTIONS</text>
<text x="503.3" y="580.03" font-size="7.07" text-anchor="middle" fill="#3e3e3e" textLength="38.3" lengthAdjust="spacingAndGlyphs" word-spacing="1.50" stroke="#3e3e3e" stroke-width="0.25">ARE GOOD</text>
<rect x="245.7" y="529.1" width="125.8" height="47.8" fill="#fff" stroke="#555" stroke-width="4.6"/>
<text x="250.0" y="540.07" font-size="6.9" font-weight="bold" text-anchor="start" fill="#2e2e2e" textLength="108.7" lengthAdjust="spacingAndGlyphs" word-spacing="1.38">ON CERTAIN MODELS IT MAY</text>
<text x="250.0" y="548.17" font-size="6.9" font-weight="bold" text-anchor="start" fill="#2e2e2e" textLength="115.5" lengthAdjust="spacingAndGlyphs" word-spacing="1.38">BE NECESSARY TO DISCONNECT</text>
<text x="250.0" y="556.97" font-size="6.9" font-weight="bold" text-anchor="start" fill="#2e2e2e" textLength="109.0" lengthAdjust="spacingAndGlyphs" word-spacing="1.38">THE VOLTAGE REGULATOR TO</text>
<text x="250.0" y="565.77" font-size="6.9" font-weight="bold" text-anchor="start" fill="#2e2e2e" textLength="116.7" lengthAdjust="spacingAndGlyphs" word-spacing="1.38">OBTAIN AN IGNITION RESISTOR</text>
<text x="250.0" y="572.97" font-size="6.9" font-weight="bold" text-anchor="start" fill="#2e2e2e" textLength="61.0" lengthAdjust="spacingAndGlyphs" word-spacing="1.38">OK  INDICATION.</text>
<rect x="245.7" y="584.4" width="126.0" height="56.9" fill="#fff" stroke="#555" stroke-width="4.2"/>
<text x="250.0" y="594.57" font-size="6.9" font-weight="bold" text-anchor="start" fill="#2e2e2e" textLength="104.0" lengthAdjust="spacingAndGlyphs" word-spacing="1.38">ON MODELS EQUIPPED WITH</text>
<text x="250.0" y="602.67" font-size="6.9" font-weight="bold" text-anchor="start" fill="#2e2e2e" textLength="70.9" lengthAdjust="spacingAndGlyphs" word-spacing="1.38">HIDDEN HEADLAMPS,</text>
<text x="250.0" y="610.27" font-size="6.9" font-weight="bold" text-anchor="start" fill="#2e2e2e" textLength="104.0" lengthAdjust="spacingAndGlyphs" word-spacing="1.38">DISCONNECT THE HEADLAMP</text>
<text x="250.0" y="619.07" font-size="6.9" font-weight="bold" text-anchor="start" fill="#2e2e2e" textLength="98.4" lengthAdjust="spacingAndGlyphs" word-spacing="1.38">COVER MOTOR CIRCUIT TO</text>
<text x="250.0" y="628.07" font-size="6.9" font-weight="bold" text-anchor="start" fill="#2e2e2e" textLength="117.8" lengthAdjust="spacingAndGlyphs" word-spacing="1.38">OBTAIN AN IGNITION RESISTOR</text>
<text x="250.0" y="635.87" font-size="6.9" font-weight="bold" text-anchor="start" fill="#2e2e2e" textLength="59.5" lengthAdjust="spacingAndGlyphs" word-spacing="1.38">OK  INDICATION.</text>
<rect x="311.6" y="648.7" width="197.6" height="55.9" fill="#fff" stroke="#555" stroke-width="4.8"/>
<text x="315.8" y="658.87" font-size="6.9" font-weight="bold" text-anchor="start" fill="#2e2e2e" textLength="158.9" lengthAdjust="spacingAndGlyphs" word-spacing="1.38">IF TESTER CHECKS IGNITON SYSTEM GOOD,</text>
<text x="315.8" y="666.97" font-size="6.9" font-weight="bold" text-anchor="start" fill="#2e2e2e" textLength="176.0" lengthAdjust="spacingAndGlyphs" word-spacing="1.38">BUT THE SYSTEM WILL NOT PRODUCE A SPARK</text>
<text x="315.8" y="674.67" font-size="6.9" font-weight="bold" text-anchor="start" fill="#2e2e2e" textLength="145.1" lengthAdjust="spacingAndGlyphs" word-spacing="1.38">WHILE STARTER IS CRANKING ENGINE,</text>
<text x="315.8" y="683.37" font-size="6.9" font-weight="bold" text-anchor="start" fill="#2e2e2e" textLength="185.3" lengthAdjust="spacingAndGlyphs" word-spacing="1.38">REMOVE AND CHECK DISTRIBUTOR CAP, EXAMINE</text>
<text x="315.8" y="691.17" font-size="6.9" font-weight="bold" text-anchor="start" fill="#2e2e2e" textLength="185.6" lengthAdjust="spacingAndGlyphs" word-spacing="1.38">PICKUP COIL FOR DAMAGE AND CHECK GAP (.006)</text>
<text x="315.8" y="699.67" font-size="6.9" font-weight="bold" text-anchor="start" fill="#2e2e2e" textLength="184.6" lengthAdjust="spacingAndGlyphs" word-spacing="1.38">BETWEEN COIL POLE PIECE AND RELUCTOR WHEEL.</text>
<text x="508.6" y="718.34" font-size="6.8" text-anchor="start" fill="#555" textLength="23.5" lengthAdjust="spacingAndGlyphs">PU691B</text>
<line x1="116.7" y1="218.0" x2="116.7" y2="228.0" stroke="#4a4a4a" stroke-width="1.0"/>
<path d="M116.7,232.5 L114.3,225.7 L119.1,225.7 Z" fill="#4a4a4a"/>
<path d="M84.0,264.5 L78.1,264.5 L78.1,425.8 L82.0,425.8" fill="none" stroke="#4a4a4a" stroke-width="1.0"/>
<path d="M84.0,425.8 L79.0,423.4 L79.0,428.2 Z" fill="#4a4a4a"/>
<path d="M132.5,277.0 L132.5,284.4 L116.7,284.4 L116.7,288.0" fill="none" stroke="#4a4a4a" stroke-width="1.0"/>
<path d="M116.7,292.8 L114.3,286.0 L119.1,286.0 Z" fill="#4a4a4a"/>
<line x1="117.0" y1="336.6" x2="117.0" y2="349.0" stroke="#4a4a4a" stroke-width="1.0"/>
<path d="M117.0,353.5 L114.6,346.7 L119.4,346.7 Z" fill="#4a4a4a"/>
<path d="M149.4,388.0 L154.4,388.0 L154.4,167.4 L387.5,167.2 L387.5,194.3 L390.0,194.3" fill="none" stroke="#4a4a4a" stroke-width="1.0"/>
<path d="M154.4,381.0 L152.0,387.8 L156.8,387.8 Z" fill="#4a4a4a"/>
<path d="M154.4,226.0 L152.0,232.8 L156.8,232.8 Z" fill="#4a4a4a"/>
<path d="M205.0,167.4 L198.2,165.0 L198.2,169.8 Z" fill="#4a4a4a"/>
<path d="M315.0,167.2 L308.2,164.8 L308.2,169.6 Z" fill="#4a4a4a"/>
<path d="M393.0,194.3 L388.0,191.9 L388.0,196.7 Z" fill="#4a4a4a"/>
<path d="M100.8,397.7 L100.8,405.3 L116.2,405.3 L116.2,410.0" fill="none" stroke="#4a4a4a" stroke-width="1.0"/>
<path d="M116.2,414.6 L113.8,407.8 L118.6,407.8 Z" fill="#4a4a4a"/>
<path d="M84.0,447.8 L77.6,447.8 L77.6,715.4 L231.8,715.4 L231.8,463.1 L157.6,463.1 L157.6,194.3 L234.0,194.3" fill="none" stroke="#4a4a4a" stroke-width="1.0"/>
<path d="M77.6,555.0 L75.2,548.2 L80.0,548.2 Z" fill="#4a4a4a"/>
<path d="M231.8,501.0 L229.4,507.8 L234.2,507.8 Z" fill="#4a4a4a"/>
<path d="M200.5,463.1 L207.3,460.7 L207.3,465.5 Z" fill="#4a4a4a"/>
<path d="M157.6,401.0 L155.2,407.8 L160.0,407.8 Z" fill="#4a4a4a"/>
<path d="M157.6,278.5 L155.2,285.3 L160.0,285.3 Z" fill="#4a4a4a"/>
<path d="M238.2,194.3 L231.4,191.9 L231.4,196.7 Z" fill="#4a4a4a"/>
<line x1="133.1" y1="459.1" x2="133.1" y2="467.5" stroke="#4a4a4a" stroke-width="1.0"/>
<path d="M133.1,467.0 L130.7,462.0 L135.5,462.0 Z" fill="#4a4a4a"/>
<path d="M116.2,476.0 L116.2,467.5 L194.0,467.5 L194.0,472.0" fill="none" stroke="#4a4a4a" stroke-width="1.0"/>
<path d="M194.0,476.3 L191.6,469.5 L196.4,469.5 Z" fill="#4a4a4a"/>
<line x1="116.2" y1="519.7" x2="116.2" y2="532.0" stroke="#4a4a4a" stroke-width="1.0"/>
<path d="M116.2,536.7 L113.8,529.9 L118.6,529.9 Z" fill="#4a4a4a"/>
<line x1="116.2" y1="581.6" x2="116.2" y2="594.0" stroke="#4a4a4a" stroke-width="1.0"/>
<path d="M116.2,598.0 L113.8,591.2 L118.6,591.2 Z" fill="#4a4a4a"/>
<path d="M100.3,643.0 L100.3,650.3 L116.5,650.3 L116.5,655.0" fill="none" stroke="#4a4a4a" stroke-width="1.0"/>
<path d="M116.5,659.0 L114.1,652.2 L118.9,652.2 Z" fill="#4a4a4a"/>
<path d="M131.8,643.0 L131.8,650.3 L194.0,650.3 L194.0,655.0" fill="none" stroke="#4a4a4a" stroke-width="1.0"/>
<path d="M194.0,659.0 L191.6,652.2 L196.4,652.2 Z" fill="#4a4a4a"/>
<line x1="116.5" y1="704.2" x2="116.5" y2="712.0" stroke="#4a4a4a" stroke-width="1.0"/>
<path d="M116.5,715.4 L114.1,710.4 L118.9,710.4 Z" fill="#4a4a4a"/>
<line x1="193.5" y1="520.2" x2="193.5" y2="532.0" stroke="#4a4a4a" stroke-width="1.0"/>
<path d="M193.5,536.7 L191.1,529.9 L195.9,529.9 Z" fill="#4a4a4a"/>
<line x1="272.3" y1="218.2" x2="272.3" y2="228.0" stroke="#4a4a4a" stroke-width="1.0"/>
<path d="M272.3,232.5 L269.9,225.7 L274.7,225.7 Z" fill="#4a4a4a"/>
<line x1="272.0" y1="277.0" x2="272.0" y2="288.0" stroke="#4a4a4a" stroke-width="1.0"/>
<path d="M272.0,292.5 L269.6,285.7 L274.4,285.7 Z" fill="#4a4a4a"/>
<line x1="231.0" y1="325.8" x2="238.3" y2="325.8" stroke="#4a4a4a" stroke-width="1.0"/>
<path d="M227.5,325.8 L234.3,323.4 L234.3,328.2 Z" fill="#4a4a4a"/>
<path d="M289.2,336.4 L289.2,344.4 L272.2,344.4 L272.2,349.0" fill="none" stroke="#4a4a4a" stroke-width="1.0"/>
<path d="M272.2,353.3 L269.8,346.5 L274.6,346.5 Z" fill="#4a4a4a"/>
<line x1="231.0" y1="389.2" x2="238.3" y2="389.2" stroke="#4a4a4a" stroke-width="1.0"/>
<path d="M227.2,389.2 L234.0,386.8 L234.0,391.6 Z" fill="#4a4a4a"/>
<path d="M289.8,397.5 L289.8,404.7 L272.2,404.7 L272.2,410.0" fill="none" stroke="#4a4a4a" stroke-width="1.0"/>
<path d="M272.2,414.5 L269.8,407.7 L274.6,407.7 Z" fill="#4a4a4a"/>
<path d="M237.8,467.5 L235.3,467.5 L235.3,437.6 L231.0,437.6" fill="none" stroke="#4a4a4a" stroke-width="1.0"/>
<path d="M227.0,437.6 L233.8,435.2 L233.8,440.0 Z" fill="#4a4a4a"/>
<path d="M290.2,471.4 L290.2,476.4 L310.6,476.4 L310.6,192.0 L313.0,192.0" fill="none" stroke="#4a4a4a" stroke-width="1.0"/>
<path d="M304.0,476.4 L297.2,474.0 L297.2,478.8 Z" fill="#4a4a4a"/>
<path d="M310.6,401.0 L308.2,407.8 L313.0,407.8 Z" fill="#4a4a4a"/>
<path d="M310.6,281.5 L308.2,288.3 L313.0,288.3 Z" fill="#4a4a4a"/>
<path d="M316.9,192.0 L311.9,189.6 L311.9,194.4 Z" fill="#4a4a4a"/>
<line x1="348.8" y1="217.3" x2="348.8" y2="228.0" stroke="#4a4a4a" stroke-width="1.0"/>
<path d="M348.8,232.4 L346.4,225.6 L351.2,225.6 Z" fill="#4a4a4a"/>
<path d="M333.0,276.9 L333.0,279.2 L348.8,279.2 L348.8,281.0" fill="none" stroke="#4a4a4a" stroke-width="1.0"/>
<path d="M348.8,285.6 L346.4,280.6 L351.2,280.6 Z" fill="#4a4a4a"/>
<path d="M383.7,269.6 L387.5,269.6 L387.5,194.3" fill="none" stroke="#4a4a4a" stroke-width="1.0"/>
<path d="M387.5,262.0 L385.1,268.8 L389.9,268.8 Z" fill="#4a4a4a"/>
<line x1="349.4" y1="348.8" x2="349.4" y2="350.0" stroke="#4a4a4a" stroke-width="1.0"/>
<path d="M349.4,353.3 L347.0,348.8 L351.8,348.8 Z" fill="#4a4a4a"/>
<path d="M333.6,397.6 L333.6,405.6 L350.5,405.6 L350.5,410.0" fill="none" stroke="#4a4a4a" stroke-width="1.0"/>
<path d="M350.5,414.8 L348.1,408.0 L352.9,408.0 Z" fill="#4a4a4a"/>
<path d="M367.0,397.6 L367.0,406.2 L387.5,406.2 L387.5,467.0 L350.5,467.0 L350.5,471.0" fill="none" stroke="#4a4a4a" stroke-width="1.0"/>
<path d="M367.0,404.0 L364.6,399.0 L369.4,399.0 Z" fill="#4a4a4a"/>
<path d="M387.5,437.0 L385.1,430.2 L389.9,430.2 Z" fill="#4a4a4a"/>
<path d="M350.5,476.0 L348.1,469.2 L352.9,469.2 Z" fill="#4a4a4a"/>
<line x1="426.7" y1="217.5" x2="426.7" y2="228.0" stroke="#4a4a4a" stroke-width="1.0"/>
<path d="M426.7,232.5 L424.3,225.7 L429.1,225.7 Z" fill="#4a4a4a"/>
<line x1="426.7" y1="277.0" x2="426.7" y2="288.0" stroke="#4a4a4a" stroke-width="1.0"/>
<path d="M426.7,292.5 L424.3,285.7 L429.1,285.7 Z" fill="#4a4a4a"/>
<path d="M408.0,336.4 L408.0,342.8 L426.5,342.8 L426.5,348.0" fill="none" stroke="#4a4a4a" stroke-width="1.0"/>
<path d="M426.5,353.2 L424.1,346.4 L428.9,346.4 Z" fill="#4a4a4a"/>
<path d="M442.4,336.4 L442.4,344.6 L465.0,344.6" fill="none" stroke="#4a4a4a" stroke-width="1.0"/>
<path d="M470.5,344.6 L463.7,342.2 L463.7,347.0 Z" fill="#4a4a4a"/>
<path d="M408.4,398.2 L408.4,406.8 L426.5,406.8 L426.5,410.0" fill="none" stroke="#4a4a4a" stroke-width="1.0"/>
<path d="M426.5,414.6 L424.1,407.8 L428.9,407.8 Z" fill="#4a4a4a"/>
<path d="M443.9,398.2 L443.9,404.5 L505.7,404.5 L505.7,410.0" fill="none" stroke="#4a4a4a" stroke-width="1.0"/>
<path d="M505.7,414.7 L503.3,407.9 L508.1,407.9 Z" fill="#4a4a4a"/>
<line x1="426.5" y1="460.1" x2="426.5" y2="472.0" stroke="#4a4a4a" stroke-width="1.0"/>
<path d="M426.5,476.3 L424.1,469.5 L428.9,469.5 Z" fill="#4a4a4a"/>
<path d="M408.4,520.8 L408.4,527.3 L426.5,527.3 L426.5,532.0" fill="none" stroke="#4a4a4a" stroke-width="1.0"/>
<path d="M426.5,536.5 L424.1,529.7 L428.9,529.7 Z" fill="#4a4a4a"/>
<path d="M444.5,520.8 L444.5,526.9 L506.0,526.9 L506.0,532.0" fill="none" stroke="#4a4a4a" stroke-width="1.0"/>
<path d="M506.0,536.5 L503.6,529.7 L508.4,529.7 Z" fill="#4a4a4a"/>
</svg>
</body></html>
